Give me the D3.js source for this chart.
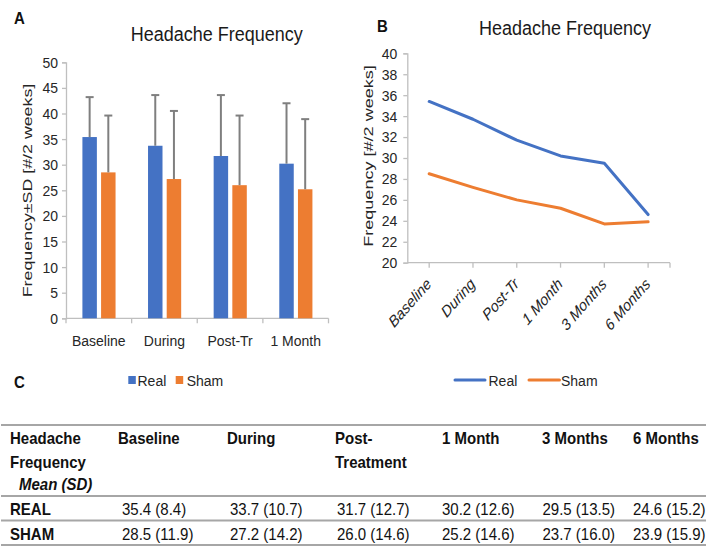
<!DOCTYPE html>
<html><head><meta charset="utf-8">
<script src="https://cdn.jsdelivr.net/npm/d3@7"></script>
<style>
html,body{margin:0;padding:0;background:#fff;}
svg{display:block;font-family:"Liberation Sans",Arial,sans-serif;}
</style></head>
<body>
<svg id="chart" width="707" height="546"></svg>
<script>
// ---------- data ----------
const categoriesA = ["Baseline", "During", "Post-Tr", "1 Month"];
const realA = [35.4, 33.7, 31.7, 30.2];
const shamA = [28.5, 27.2, 26.0, 25.2];
const realErrA = [7.8, 9.9, 11.9, 11.8];
const shamErrA = [11.1, 13.3, 13.6, 13.7];
const ticksA = [0, 5, 10, 15, 20, 25, 30, 35, 40, 45, 50];

const categoriesB = ["Baseline", "During", "Post-Tr", "1 Month", "3 Months", "6 Months"];
const realB = [35.4, 33.7, 31.7, 30.2, 29.5, 24.6];
const shamB = [28.5, 27.2, 26.0, 25.2, 23.7, 23.9];
const ticksB = [20, 22, 24, 26, 28, 30, 32, 34, 36, 38, 40];

const seriesNames = ["Real", "Sham"];
const tableHeaders = [["Baseline"], ["During"], ["Post-", "Treatment"], ["1 Month"], ["3 Months"], ["6 Months"]];
const realMean = [35.4, 33.7, 31.7, 30.2, 29.5, 24.6];
const realSD = [8.4, 10.7, 12.7, 12.6, 13.5, 15.2];
const shamMean = [28.5, 27.2, 26.0, 25.2, 23.7, 23.9];
const shamSD = [11.9, 14.2, 14.6, 14.6, 16.0, 15.9];

// ---------- style ----------
const BLUE = "#4472C4", ORANGE = "#ED7D31", AXIS = "#bfbfbf", TXT = "#262626", ERR = "#7f7f7f";
const colors = [BLUE, ORANGE];
const SV = 1.1; // vertical stretch of horizontal text seen in the reference
const svg = d3.select("#chart");

function label(g, x, y, str, size, opts) {
  opts = opts || {};
  const t = g.append("text")
    .attr("transform", `translate(${x},${y}) scale(1,${opts.sv || SV})`)
    .attr("font-size", size).attr("fill", opts.fill || TXT).text(str);
  if (opts.anchor) t.attr("text-anchor", opts.anchor);
  if (opts.bold) t.attr("font-weight", "bold");
  if (opts.italic) t.attr("font-style", "italic");
  return t;
}
function styleAxis(g) {
  g.select(".domain").attr("stroke", AXIS).attr("stroke-width", 1.3);
  g.selectAll(".tick line").attr("stroke", AXIS).attr("stroke-width", 1.3);
  g.selectAll(".tick text").attr("font-size", 14).attr("fill", TXT)
    .attr("font-family", "Liberation Sans, Arial, sans-serif").attr("transform", `scale(1,${SV})`);
}

// ========== Panel A ==========
const gA = svg.append("g");
label(gA, 14, 24, "A", 15, {bold: true, fill: "#111"});
label(gA, 216.7, 40.7, "Headache Frequency", 18, {anchor: "middle", fill: "#1a1a1a"});

const yA = d3.scaleLinear().domain([0, 50]).range([318.3, 62.3]);
const xA = d3.scaleBand().domain(categoriesA).range([66, 328.5]).padding(0);
const bw = xA.bandwidth();
const xA1 = d3.scaleBand().domain(seriesNames).range([bw * 0.25, bw * 0.755]).paddingInner(0.225).paddingOuter(0);

const gyA = gA.append("g").attr("transform", "translate(66,0)")
  .call(d3.axisLeft(yA).tickValues(ticksA).tickSize(4).tickPadding(4));
styleAxis(gyA);

// x axis (ticks at category boundaries)
gA.append("line").attr("x1", 66).attr("x2", 328.5).attr("y1", yA(0)).attr("y2", yA(0)).attr("stroke", AXIS).attr("stroke-width", 1.3);
const boundsA = categoriesA.map(c => xA(c)).concat([xA.range()[1]]);
gA.selectAll(".xtA").data(boundsA).join("line")
  .attr("x1", d => d).attr("x2", d => d).attr("y1", yA(0)).attr("y2", yA(0) + 5)
  .attr("stroke", AXIS).attr("stroke-width", 1.3);
categoriesA.forEach(c => label(gA, xA(c) + bw / 2, 346, c, 14, {anchor: "middle"}));

// bars
const barData = [];
categoriesA.forEach((c, i) => {
  barData.push({c, s: "Real", v: realA[i], e: realErrA[i], col: BLUE});
  barData.push({c, s: "Sham", v: shamA[i], e: shamErrA[i], col: ORANGE});
});
gA.selectAll(".bar").data(barData).join("rect")
  .attr("x", d => xA(d.c) + xA1(d.s)).attr("width", xA1.bandwidth())
  .attr("y", d => yA(d.v)).attr("height", d => yA(0) - yA(d.v))
  .attr("fill", d => d.col);
// error bars (upper only)
const bx = d => xA(d.c) + xA1(d.s) + xA1.bandwidth() / 2;
const eb = gA.selectAll(".eb").data(barData).join("g");
eb.append("line")
  .attr("x1", bx).attr("x2", bx)
  .attr("y1", d => yA(d.v)).attr("y2", d => yA(d.v + d.e))
  .attr("stroke", ERR).attr("stroke-width", 2);
eb.append("line")
  .attr("x1", d => bx(d) - 4).attr("x2", d => bx(d) + 4)
  .attr("y1", d => yA(d.v + d.e)).attr("y2", d => yA(d.v + d.e))
  .attr("stroke", ERR).attr("stroke-width", 2);

gA.append("text").attr("transform", "translate(32,190.5) rotate(-90) scale(1.37,1)")
  .attr("text-anchor", "middle").attr("font-size", 13).attr("fill", TXT).text("Frequency±SD [#/2 weeks]");

[[128.3, 137.5], [175.7, 186.7]].forEach((p, i) => {
  gA.append("rect").attr("x", p[0]).attr("y", 376).attr("width", 7.5).attr("height", 8).attr("fill", colors[i]);
  label(gA, p[1], 385.5, seriesNames[i], 14);
});

// ========== Panel B ==========
const gB = svg.append("g");
label(gB, 377, 32, "B", 15, {bold: true, fill: "#111"});
label(gB, 565, 35, "Headache Frequency", 18, {anchor: "middle", fill: "#1a1a1a"});

const yB = d3.scaleLinear().domain([20, 40]).range([262.7, 53.3]);
const xB = d3.scaleBand().domain(categoriesB).range([407.3, 670]).padding(0);
const bwB = xB.bandwidth();
const cx = c => xB(c) + bwB / 2;

const gyB = gB.append("g").attr("transform", "translate(407.3,0)")
  .call(d3.axisLeft(yB).tickValues(ticksB).tickSize(4).tickPadding(6));
styleAxis(gyB);

gB.append("line").attr("x1", 407.3).attr("x2", 670).attr("y1", yB(20)).attr("y2", yB(20)).attr("stroke", AXIS).attr("stroke-width", 1.3);
const ticksXB = categoriesB.map(cx).concat([xB.range()[1]]);
gB.selectAll(".xtB").data(ticksXB).join("line")
  .attr("x1", d => d).attr("x2", d => d).attr("y1", yB(20)).attr("y2", yB(20) + 5)
  .attr("stroke", AXIS).attr("stroke-width", 1.3);
gB.selectAll(".xlB").data(categoriesB).join("text")
  .attr("transform", d => `translate(${cx(d) + 3},285) scale(1,1.14) rotate(-45)`)
  .attr("text-anchor", "end").attr("font-size", 14).attr("font-style", "italic").attr("fill", TXT).text(d => d);

const line = d3.line().x((d, i) => cx(categoriesB[i])).y(d => yB(d));
[realB, shamB].forEach((s, i) => {
  gB.append("path").datum(s).attr("d", line).attr("fill", "none")
    .attr("stroke", colors[i]).attr("stroke-width", 3).attr("stroke-linejoin", "round").attr("stroke-linecap", "round");
});

gB.append("text").attr("transform", "translate(372.5,156) rotate(-90) scale(1.39,1)")
  .attr("text-anchor", "middle").attr("font-size", 13).attr("fill", TXT).text("Frequency [#/2 weeks]");

[[455, 485, 488.5], [529, 559.5, 561]].forEach((p, i) => {
  gB.append("line").attr("x1", p[0]).attr("x2", p[1]).attr("y1", 380).attr("y2", 380)
    .attr("stroke", colors[i]).attr("stroke-width", 3).attr("stroke-linecap", "round");
  label(gB, p[2], 385.5, seriesNames[i], 14);
});

// ========== Panel C (table) ==========
const gC = svg.append("g");
label(gC, 14, 388, "C", 15, {bold: true, fill: "#111"});

[425, 496, 520.5, 545].forEach(y => {
  gC.append("line").attr("x1", 1).attr("x2", 706).attr("y1", y).attr("y2", y).attr("stroke", "#a6a6a6").attr("stroke-width", 2);
});
const ST = 1.13;
const topt = o => Object.assign({sv: ST, fill: "#111"}, o || {});
label(gC, 10, 443.5, "Headache", 15, topt({bold: true}));
label(gC, 10, 468, "Frequency", 15, topt({bold: true}));
label(gC, 19, 490, "Mean (SD)", 15, topt({bold: true, italic: true}));
const headX = [118, 227, 335, 442, 542, 633];
const dataX = [122, 230, 337, 442, 542.5, 633];
tableHeaders.forEach((h, i) => {
  h.forEach((ln, j) => label(gC, headX[i], 443.5 + j * 24.5, ln, 15, topt({bold: true})));
});
label(gC, 10, 515, "REAL", 15, topt({bold: true}));
label(gC, 10, 539.5, "SHAM", 15, topt({bold: true}));
realMean.forEach((m, i) => label(gC, dataX[i], 515, `${m.toFixed(1)} (${realSD[i].toFixed(1)})`, 15, topt()));
shamMean.forEach((m, i) => label(gC, dataX[i], 539.5, `${m.toFixed(1)} (${shamSD[i].toFixed(1)})`, 15, topt()));
</script>
</body></html>
